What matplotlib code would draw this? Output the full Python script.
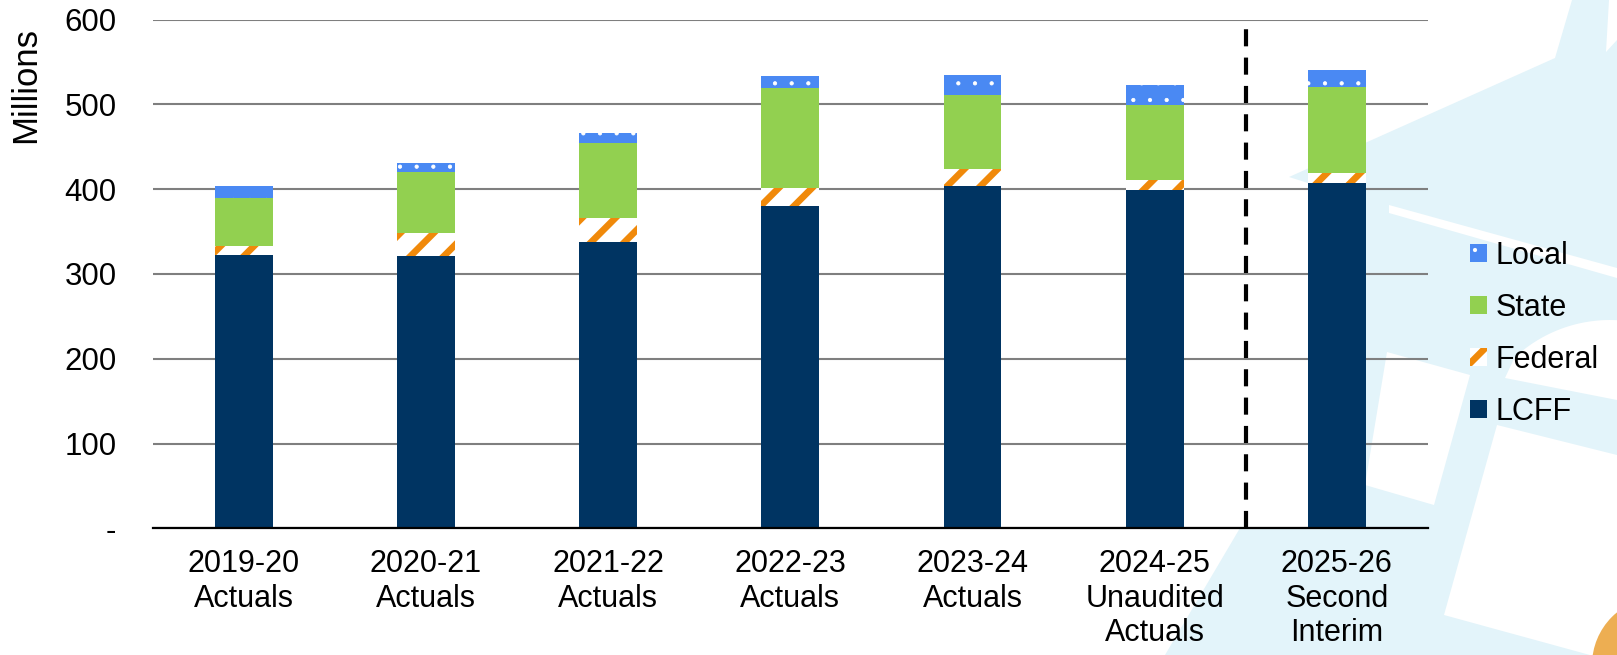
import numpy as np
import matplotlib
matplotlib.use('Agg')
import matplotlib.pyplot as plt
from matplotlib.patches import Polygon, Ellipse, Rectangle
from matplotlib.legend_handler import HandlerPatch

plt.rcParams['font.family'] = ['Liberation Sans', 'DejaVu Sans']

# revenue by source, millions
years = ['2019-20\nActuals', '2020-21\nActuals', '2021-22\nActuals', '2022-23\nActuals',
         '2023-24\nActuals', '2024-25\nUnaudited\nActuals', '2025-26\nSecond\nInterim']
lcff = [322.6, 321.7, 337.5, 379.6, 403.2, 398.5, 407.5]
federal = [10.6, 26.7, 28.0, 21.7, 20.8, 12.3, 11.1]
state = [56.3, 71.8, 88.8, 118.1, 87.6, 88.0, 102.4]
local = [13.7, 11.0, 12.3, 14.5, 23.1, 24.4, 20.0]
yticks = [0, 100, 200, 300, 400, 500, 600]
ytick_labels = ['-', '100', '200', '300', '400', '500', '600']

W, H = 1617, 655
fig = plt.figure(figsize=(W / 100, H / 100), dpi=100)
fig.patch.set_facecolor('white')

LIGHT = '#E3F4FA'
FED_LW = 4.8
LOCAL_LW = 0.6


def px(pts):
    return [(x / W, 1 - y / H) for x, y in pts]


def shape(pts, color):
    fig.add_artist(Polygon(px(pts), closed=True, transform=fig.transFigure,
                           facecolor=color, edgecolor='none', zorder=-10))


def legend_box(lw):
    # hatch width is fixed when the patch is created
    def make(legend, orig_handle, xdescent, ydescent, width, height, fontsize):
        with plt.rc_context({'hatch.linewidth': lw}):
            return Rectangle((-xdescent, -ydescent), width, height)
    return HandlerPatch(patch_func=make)


# decorative backdrop on the right
shape([(1289, 177), (1555, 58), (1572, 0), (1617, 0), (1617, 655), (1165, 655),
       (1240, 528), (1308, 528), (1308, 183)], LIGHT)
shape([(1609, 0), (1617, 0), (1617, 40), (1606, 52)], 'white')
shape([(1389, 205), (1617, 268), (1617, 278), (1389, 213)], 'white')
ang = np.radians(np.linspace(-133, -87, 30))
arc = [(1610 + 140 * np.cos(a), 460 + 140 * np.sin(a)) for a in ang]
shape(arc + [(1617, 400), (1505, 378)], 'white')
shape([(1387, 352), (1470, 375), (1434, 505), (1365, 485)], 'white')
shape([(1497, 425), (1617, 455), (1617, 655), (1590, 655), (1444, 615)], 'white')
fig.add_artist(Ellipse((1660 / W, 1 - 665 / H), 2 * 68 / W, 2 * 68 / H,
                       transform=fig.transFigure, facecolor='#EDAE52',
                       edgecolor='none', zorder=-9))

ax = fig.add_axes([152.6 / W, 1 - 528.3 / H, (1428 - 152.6) / W, (528.3 - 19.6) / H])
ax.set_facecolor('none')

x = np.arange(len(years))
w = 0.318
lc = ax.bar(x, lcff, w, color='#003462', label='LCFF')
b = np.array(lcff)
with plt.rc_context({'hatch.linewidth': FED_LW}):
    fed = ax.bar(x, federal, w, bottom=b, facecolor='white', edgecolor='#F0890A',
                 hatch='/', linewidth=0, label='Federal')
b = b + federal
st = ax.bar(x, state, w, bottom=b, color='#92D050', label='State')
b = b + state
with plt.rc_context({'hatch.linewidth': LOCAL_LW}):
    loc = ax.bar(x, local, w, bottom=b, facecolor='#4A89F3', edgecolor='white',
                 hatch='.', linewidth=0, label='Local')

ax.axvline(5.5, color='black', lw=3, dashes=(4.1, 2.7))

ax.set_xlim(-0.5, len(years) - 0.5)
ax.set_ylim(0, 600)
ax.set_yticks(yticks)
ax.set_yticklabels(ytick_labels)
ax.set_xticks(x)
ax.set_xticklabels(years, linespacing=1.2)
ax.tick_params(axis='both', length=0, labelsize=22)
ax.tick_params(axis='y', labelsize=22.5)
ax.tick_params(axis='x', pad=15)
ax.tick_params(axis='y', pad=26)
ax.set_axisbelow(True)
ax.yaxis.grid(True, color='#7F7F7F', lw=1.5)
for s in ['left', 'right', 'top']:
    ax.spines[s].set_visible(False)
ax.spines['bottom'].set_color('black')
ax.spines['bottom'].set_linewidth(1.6)

fig.text(26 / W, 1 - 85 / H, 'Millions', rotation=90, ha='center', va='center', fontsize=25)

fig.legend([loc[0], st[0], fed[0], lc[0]], ['Local', 'State', 'Federal', 'LCFF'],
           handler_map={fed[0]: legend_box(FED_LW), loc[0]: legend_box(LOCAL_LW)},
           loc='center left', bbox_to_anchor=(1470 / W, 1 - 334 / H),
           frameon=False, fontsize=22,
           handlelength=0.55, handleheight=0.55, handletextpad=0.3,
           labelspacing=0.72, borderpad=0, borderaxespad=0)

fig.savefig('out.png', dpi=100)
